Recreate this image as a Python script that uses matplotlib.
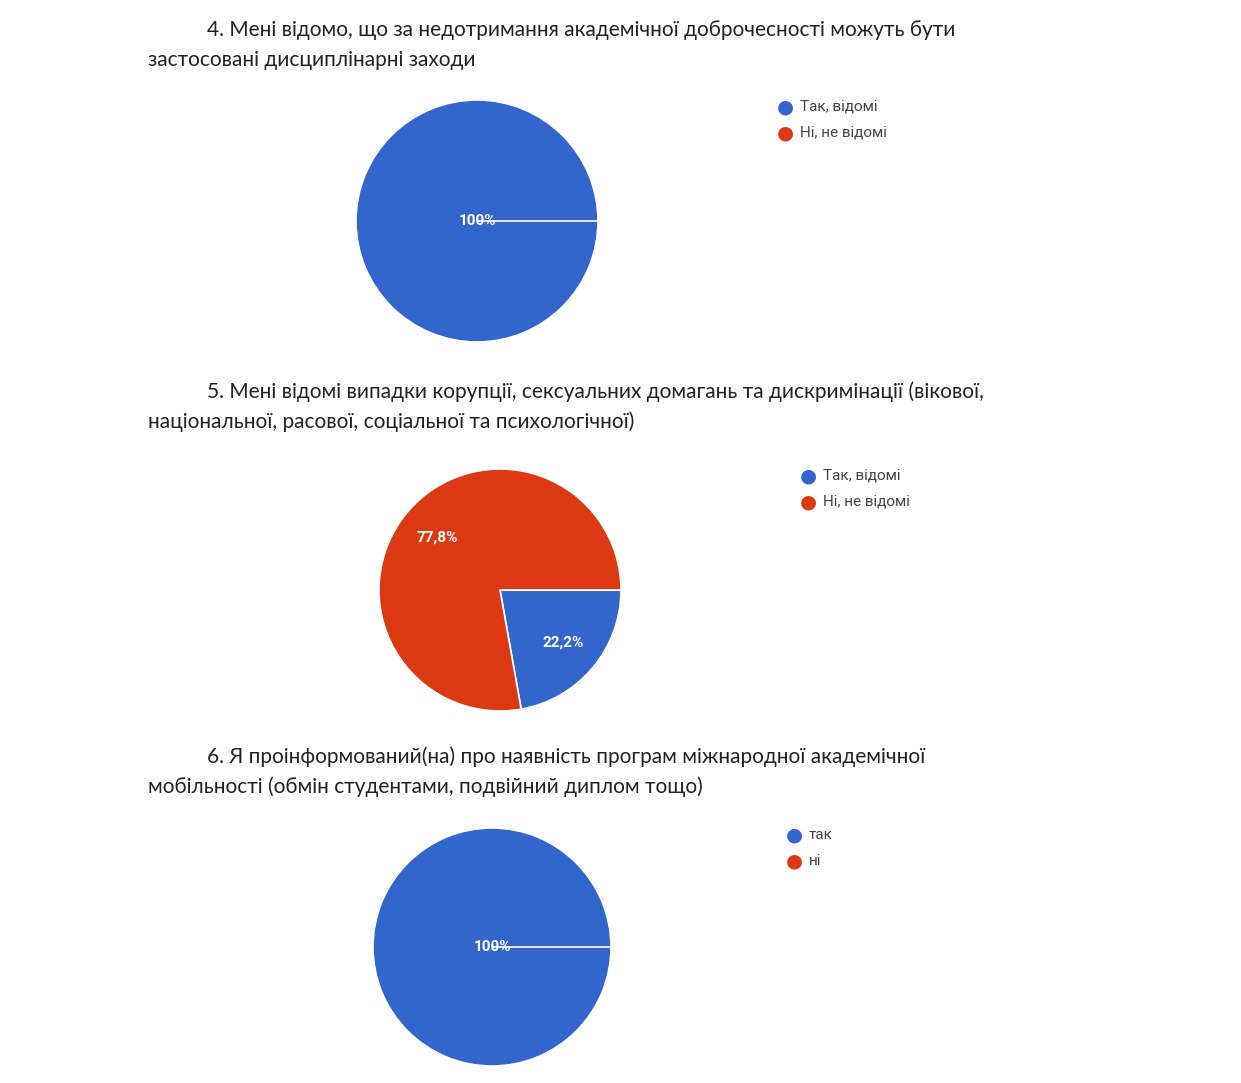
import matplotlib
matplotlib.use("Agg")
import matplotlib.pyplot as plt

W, H = 1241, 1083

titles = [
    ("4. Мені відомо, що за недотримання академічної доброчесності можуть бути",
     "застосовані дисциплінарні заходи"),
    ("5. Мені відомі випадки корупції, сексуальних домагань та дискримінації (вікової,",
     "національної, расової, соціальної та психологічної)"),
    ("6. Я проінформований(на) про наявність програм міжнародної академічної",
     "мобільності (обмін студентами, подвійний диплом тощо)"),
]
labels_1 = ["Так, відомі", "Ні, не відомі"]
values_1 = [100.0, 0.0]
labels_2 = ["Так, відомі", "Ні, не відомі"]
values_2 = [22.2, 77.8]
labels_3 = ["так", "ні"]
values_3 = [100.0, 0.0]

colors = ["#3366cc", "#dc3912"]

fig = plt.figure(figsize=(W / 100, H / 100), dpi=100)

# title lines (first line indented)
title_y = [(30, 60), (392, 422), (757, 787)]
for (l1, l2), (y1, y2) in zip(titles, title_y):
    fig.text(207 / W, 1 - y1 / H, l1, fontsize=15, color="#222222",
             va="center", ha="left", family="Lato")
    fig.text(148 / W, 1 - y2 / H, l2, fontsize=15, color="#222222",
             va="center", ha="left", family="Lato")

pies = [
    (labels_1, values_1, (477, 221, 121), (785, 107)),
    (labels_2, values_2, (500, 590, 121), (808, 476)),
    (labels_3, values_3, (492, 947, 119), (794, 835)),
]

for labels, vals, (cx, cy, r), (lx, ly) in pies:
    ax = fig.add_axes([(cx - r) / W, 1 - (cy + r) / H, 2 * r / W, 2 * r / H])
    single = sum(v > 0 for v in vals) == 1
    fmt = lambda p: ("%.1f%%" % p).replace(".", ",") if 0 < p < 100 else ("100%" if p >= 100 else "")
    wedges, texts, autos = ax.pie(vals, colors=colors, startangle=0, counterclock=False,
                                  autopct=fmt, pctdistance=0 if single else 0.68,
                                  wedgeprops=dict(edgecolor="white", linewidth=1.2))
    for t in autos:
        t.set_color("white")
        t.set_fontsize(11)
        t.set_fontweight("bold")
        t.set_family("Roboto")
    ax.set_xlim(-1.0, 1.0)
    ax.set_ylim(-1.0, 1.0)
    ax.set_aspect("equal")
    for i, (lab, c) in enumerate(zip(labels, colors)):
        yy = ly + i * 26
        fig.text(lx / W, 1 - yy / H, "\u25CF", color=c, fontsize=14,
                 ha="center", va="center", family="DejaVu Sans")
        fig.text((lx + 15) / W, 1 - yy / H, lab, color="#444444", fontsize=11,
                 ha="left", va="center", family="Roboto")

fig.savefig("out.png", dpi=100)
